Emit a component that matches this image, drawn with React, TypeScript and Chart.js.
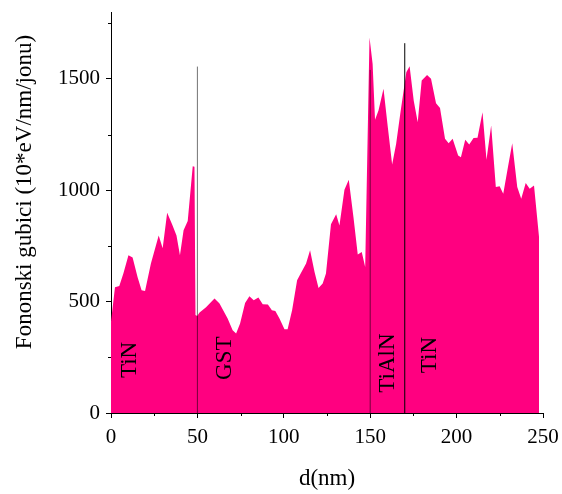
import React, { useEffect, useRef } from 'react';
import { Chart, registerables } from 'chart.js';

Chart.register(...registerables);

// Depth (nm) and phonon losses (10*eV/nm/ion)
const depthNm = [
  0, 2.3, 4.8, 7.2, 10.1, 12.5, 15.4, 17.7, 19.7, 23.1, 27.6, 29.9, 32.5, 35.4, 37.9, 39.9, 42.0, 44.4, 47.3, 48.3,
  48.9, 49.9, 51.1, 55.0, 59.9, 62.8, 67.5, 70.4, 72.4, 74.7, 77.6, 80.1, 82.6, 85.3, 87.8, 90.8, 93.1, 95.1, 97.5,
  100.4, 102.2, 104.8, 107.7, 110.0, 112.9, 115.2, 117.8, 120.1, 122.5, 124.4, 127.3, 130.3, 132.2, 135.1, 137.6,
  140.3, 142.8, 145.1, 147.1, 149.6, 151.4, 152.8, 154.8, 157.7, 160.2, 162.7, 165.0, 167.4, 169.9, 170.9, 172.8,
  175.2, 177.5, 179.8, 182.9, 185.2, 188.1, 190.4, 193.3, 195.4, 197.7, 200.9, 202.5, 205.0, 207.3, 209.8, 212.1,
  215.0, 217.3, 220.0, 222.7, 224.9, 227.0, 229.7, 232.2, 235.1, 237.4, 240.0, 242.3, 244.8, 247.7,
];
const phononLoss = [
  410, 564, 570, 627, 708, 698, 609, 551, 548, 671, 797, 739, 899, 846, 797, 708, 820, 862, 1108, 1105,
  440, 435, 450, 475, 514, 491, 424, 372, 357, 402, 494, 524, 506, 518, 488, 487, 461, 458, 424,
  376, 376, 461, 596, 630, 671, 730, 633, 561, 581, 626, 847, 892, 842, 1002, 1047,
  880, 712, 723, 655, 1686, 1567, 1316, 1358, 1455, 1283, 1116, 1208, 1343, 1477, 1530, 1557,
  1402, 1305, 1492, 1517, 1500, 1390, 1369, 1231, 1211, 1231, 1156, 1148, 1226, 1205, 1234, 1235,
  1350, 1137, 1290, 1014, 1018, 984, 1103, 1211, 1014, 962, 1032, 1007, 1021, 790,
];

const interfaceX = [50, 150, 170];
const interfaceTop = [1555, 1540, 1660];
const interfaceColor = ['rgba(0,0,0,0.55)', 'rgba(0,0,0,0.55)', '#000'];
const layerNames = ['TiN', 'GST', 'TiAlN', 'TiN'];
const layerLabelX = [10.9, 65.9, 160.4, 184.7];
const layerLabelY = [238, 246, 224, 260];

const xTicks = [0, 50, 100, 150, 200, 250];
const xMinorTicks = [25, 75, 125, 175, 225];
const yTicks = [0, 500, 1000, 1500];
const yMinorTicks = [250, 750, 1250, 1750];

const xTitle = 'd(nm)';
const yTitle = 'Fononski gubici (10*eV/nm/jonu)';

const FAMILY = "'Liberation Serif', 'Times New Roman', serif";
const FILL = '#FF0080';

const overlayPlugin = {
  id: 'overlay',
  afterDatasetsDraw(chart: any) {
    const { ctx, scales } = chart;
    const xs = scales.x;
    const ys = scales.y;
    ctx.save();
    ctx.lineWidth = 1;
    interfaceX.forEach((v, i) => {
      const px = xs.getPixelForValue(v);
      ctx.strokeStyle = interfaceColor[i];
      ctx.beginPath();
      ctx.moveTo(px, ys.getPixelForValue(0));
      ctx.lineTo(px, ys.getPixelForValue(interfaceTop[i]));
      ctx.stroke();
    });
    ctx.fillStyle = '#000';
    ctx.font = `23px ${FAMILY}`;
    ctx.textAlign = 'center';
    ctx.textBaseline = 'middle';
    layerNames.forEach((name, i) => {
      ctx.save();
      ctx.translate(xs.getPixelForValue(layerLabelX[i]), ys.getPixelForValue(layerLabelY[i]));
      ctx.rotate(-Math.PI / 2);
      ctx.fillText(name, 0, 0);
      ctx.restore();
    });
    ctx.restore();
  },
  afterDraw(chart: any) {
    const { ctx, chartArea, scales } = chart;
    const xs = scales.x;
    const ys = scales.y;
    ctx.save();
    ctx.strokeStyle = '#000';
    ctx.lineWidth = 1;
    yMinorTicks.forEach((v) => {
      const py = Math.round(ys.getPixelForValue(v)) + 0.5;
      ctx.beginPath();
      ctx.moveTo(chartArea.left - 3, py);
      ctx.lineTo(chartArea.left, py);
      ctx.stroke();
    });
    xMinorTicks.forEach((v) => {
      const px = Math.round(xs.getPixelForValue(v)) + 0.5;
      ctx.beginPath();
      ctx.moveTo(px, chartArea.bottom);
      ctx.lineTo(px, chartArea.bottom + 3);
      ctx.stroke();
    });
    ctx.fillStyle = '#000';
    ctx.font = `23px ${FAMILY}`;
    ctx.textAlign = 'center';
    ctx.textBaseline = 'middle';
    ctx.translate(25, 192);
    ctx.rotate(-Math.PI / 2);
    ctx.fillText(yTitle, 0, 0);
    ctx.restore();
  },
};

export default function App() {
  const ref = useRef<HTMLCanvasElement | null>(null);

  useEffect(() => {
    if (!ref.current) return;
    const points = depthNm.map((x, i) => ({ x, y: phononLoss[i] }));
    const tickFont = { family: FAMILY, size: 21 };
    const chart = new Chart(ref.current, {
      type: 'line',
      data: {
        datasets: [
          {
            label: yTitle,
            data: points,
            borderWidth: 0,
            borderColor: FILL,
            backgroundColor: FILL,
            fill: 'origin',
            pointRadius: 0,
            tension: 0,
          },
        ],
      },
      options: {
        responsive: false,
        animation: false,
        layout: { padding: { left: 0, right: 19, top: 12, bottom: 0 } },
        plugins: { legend: { display: false }, tooltip: { enabled: false } },
        scales: {
          x: {
            type: 'linear',
            min: 0,
            max: 250,
            afterBuildTicks: (s: any) => {
              s.ticks = xTicks.map((value) => ({ value }));
            },
            afterFit: (s: any) => {
              s.height = 81;
              s.paddingLeft = 0;
              s.paddingRight = 0;
            },
            ticks: {
              font: tickFont,
              color: '#000',
              padding: 7,
              maxRotation: 0,
              autoSkip: false,
              callback: (v: any) => String(v),
            },
            grid: { drawOnChartArea: false, tickLength: 5, color: '#000' },
            border: { color: '#000', width: 1 },
            title: {
              display: true,
              text: xTitle,
              color: '#000',
              font: { family: FAMILY, size: 23 },
              padding: { top: 0, bottom: 1 },
            },
          },
          y: {
            type: 'linear',
            min: 0,
            max: 1800,
            afterBuildTicks: (s: any) => {
              s.ticks = yTicks.map((value) => ({ value }));
            },
            afterFit: (s: any) => {
              s.width = 111;
              s.paddingTop = 0;
              s.paddingBottom = 0;
            },
            ticks: {
              font: tickFont,
              color: '#000',
              padding: 6,
              autoSkip: false,
              callback: (v: any) => String(v),
            },
            grid: { drawOnChartArea: false, tickLength: 5, color: '#000' },
            border: { color: '#000', width: 1 },
          },
        },
      },
      plugins: [overlayPlugin],
    });
    return () => chart.destroy();
  }, []);

  return (
    <div style={{ position: 'fixed', left: 0, top: 0, width: 562, height: 494, background: '#fff' }}>
      <canvas ref={ref} width={562} height={494} style={{ display: 'block' }} />
    </div>
  );
}
